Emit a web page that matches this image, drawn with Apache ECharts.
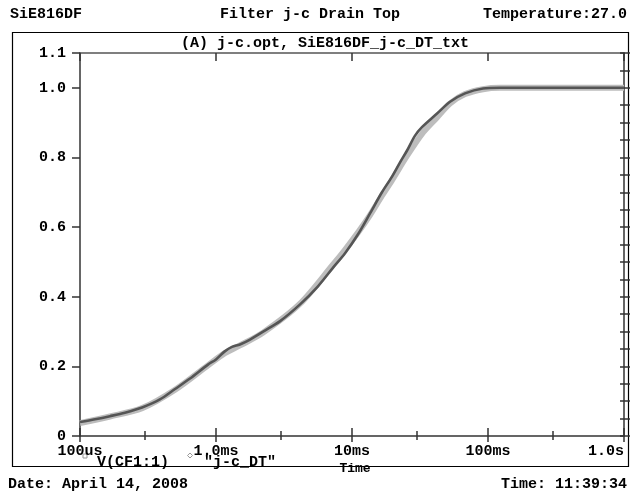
<!DOCTYPE html>
<html>
<head>
<meta charset="utf-8">
<script src="https://cdn.jsdelivr.net/npm/echarts@6/dist/echarts.min.js"></script>
<style>html,body{margin:0;padding:0;background:#fff}#c{width:637px;height:496px}</style>
</head>
<body>
<div id="c"></div>
<script>
// Time in seconds, values in volts
var simTime = [1.00e-4,1.29e-4,1.66e-4,2.14e-4,2.86e-4,3.87e-4,5.00e-4,6.44e-4,8.73e-4,1.00e-3,1.16e-3,1.31e-3,1.50e-3,1.78e-3,2.22e-3,2.96e-3,4.15e-3,5.62e-3,7.24e-3,8.89e-3,1.11e-2,1.36e-2,1.66e-2,1.97e-2,2.25e-2,2.54e-2,2.90e-2,3.27e-2,4.22e-2,5.26e-2,6.78e-2,9.18e-2,0.122,1.0];
var simV    = [0.040,0.048,0.057,0.067,0.082,0.105,0.135,0.165,0.205,0.220,0.243,0.256,0.263,0.277,0.300,0.330,0.378,0.430,0.483,0.525,0.580,0.640,0.700,0.745,0.785,0.820,0.862,0.887,0.926,0.960,0.984,0.998,1.000,1.000];
var measTime = [1.00e-4,1.66e-4,2.86e-4,5.00e-4,8.73e-4,1.16e-3,1.50e-3,2.22e-3,4.15e-3,7.24e-3,8.89e-3,1.11e-2,1.36e-2,1.66e-2,1.97e-2,2.54e-2,3.27e-2,4.22e-2,5.26e-2,6.78e-2,9.18e-2,0.122,1.0];
var measV    = [0.037,0.056,0.080,0.133,0.203,0.238,0.260,0.297,0.380,0.492,0.535,0.585,0.635,0.690,0.735,0.805,0.868,0.915,0.955,0.982,0.996,1.000,1.000];
var xMajorTicks = [1e-4,1e-3,1e-2,1e-1,1];
var xMajorLabels = ['100us','1.0ms','10ms','100ms','1.0s'];
var xMinorTicks = [3e-4,3e-3,3e-2,3e-1];
var yLabelValues = [0,0.2,0.4,0.6,0.8,1.0,1.1];
var yMinorStep = 0.05;
var seriesNames = ['V(CF1:1)','"j-c_DT"'];

var lg = function(t){ return Math.log10(t); };
var simData = simTime.map(function(t,i){ return [lg(t), simV[i]]; });
var measData = measTime.map(function(t,i){ return [lg(t), measV[i]]; });
var majLog = xMajorTicks.map(lg);
var minLog = xMinorTicks.map(lg);
var yAll = [];
for (var k = 0; k <= 22; k++) yAll.push(+(k*yMinorStep).toFixed(2));

var FONT = 'Liberation Mono';
var AX = '#333';
function xAx(pos, opts){
  var a = {type:'value', min:-4, max:0, interval:1, position:pos,
    axisLine:{show:false}, axisLabel:{show:false}, splitLine:{show:false},
    axisTick:{show:false}};
  for (var k in opts) a[k]=opts[k];
  return a;
}
function yAx(pos, opts){
  var a = {type:'value', min:0, max:1.1, interval:0.1, position:pos,
    axisLine:{show:false}, axisLabel:{show:false}, splitLine:{show:false},
    axisTick:{show:false}};
  for (var k in opts) a[k]=opts[k];
  return a;
}

var chart = echarts.init(document.getElementById('c'), null, {renderer:'canvas'});
var option = {
  backgroundColor:'#ffffff',
  animation:false,
  grid:{left:80, right:13, top:53, height:383, containLabel:false},
  xAxis:[
    xAx('bottom', {axisLine:{show:true, onZero:false, lineStyle:{color:AX, width:1.5}},
      axisTick:{show:true, inside:true, length:8, lineStyle:{color:AX, width:1.5}, customValues:majLog},
      axisLabel:{show:true, customValues:majLog, margin:8, color:'#000', fontFamily:FONT, fontWeight:'bold', fontSize:15,
        formatter:function(v){ var i = majLog.indexOf(v); for (var j=0;j<majLog.length;j++){ if (Math.abs(majLog[j]-v)<1e-6) i=j; } return i>=0 ? xMajorLabels[i] : ''; },
        alignMaxLabel:'right'}}),
    xAx('bottom', {axisTick:{show:true, inside:false, length:6, lineStyle:{color:AX, width:1.5}, customValues:majLog}}),
    xAx('bottom', {axisTick:{show:true, inside:true, length:5, lineStyle:{color:AX, width:1.5}, customValues:minLog}}),
    xAx('top', {axisLine:{show:true, onZero:false, lineStyle:{color:'#555', width:1.5}},
      axisTick:{show:true, inside:true, length:8, lineStyle:{color:AX, width:1.5}, customValues:majLog}}),
    xAx('top', {axisTick:{show:true, inside:true, length:4, lineStyle:{color:AX, width:1.5}, customValues:minLog}})
  ],
  yAxis:[
    yAx('left', {axisLine:{show:true, onZero:false, lineStyle:{color:AX, width:1.5}},
      axisTick:{show:true, inside:false, length:8, lineStyle:{color:AX, width:1.5}, customValues:yLabelValues},
      axisLabel:{show:true, customValues:yLabelValues, margin:14, color:'#000', fontFamily:FONT, fontWeight:'bold', fontSize:15,
        formatter:function(v){ return v===0 ? '0' : v.toFixed(1); }}}),
    yAx('left', {axisTick:{show:true, inside:true, length:6, lineStyle:{color:AX, width:1.5}, customValues:yAll}}),
    yAx('right', {axisLine:{show:true, onZero:false, lineStyle:{color:AX, width:1.5}},
      axisTick:{show:true, inside:true, length:4, lineStyle:{color:AX, width:1.5}, customValues:yAll}})
  ],
  series:[
    {name:seriesNames[1], type:'line', xAxisIndex:0, yAxisIndex:0, data:measData, smooth:0.3,
      showSymbol:false, lineStyle:{color:'#bdbdbd', width:6}, z:2},
    {name:seriesNames[0], type:'line', xAxisIndex:0, yAxisIndex:0, data:simData, smooth:0.3,
      showSymbol:false, lineStyle:{color:'#555555', width:2.6}, z:3}
  ],
  graphic:[
    {type:'rect', shape:{x:12.5, y:32.5, width:616, height:434}, style:{fill:null, stroke:'#000', lineWidth:1.2}, z:-1, silent:true},
    {type:'text', left:10, top:7, style:{text:'SiE816DF', font:'bold 15px "Liberation Mono"', fill:'#000'}},
    {type:'text', x:310, y:7, style:{text:'Filter j-c Drain Top', font:'bold 15px "Liberation Mono"', fill:'#000', align:'center'}},
    {type:'text', right:10, top:7, style:{text:'Temperature:27.0', font:'bold 15px "Liberation Mono"', fill:'#000'}},
    {type:'text', x:325, y:36, style:{text:'(A) j-c.opt, SiE816DF_j-c_DT_txt', font:'bold 15px "Liberation Mono"', fill:'#000', align:'center'}},
    {type:'rect', shape:{x:83, y:454, width:4, height:4}, style:{fill:null, stroke:'#999', lineWidth:1}},
    {type:'text', x:97, y:455, style:{text:seriesNames[0], font:'bold 15px "Liberation Mono"', fill:'#000'}},
    {type:'polygon', shape:{points:[[190,453],[192.5,455.5],[190,458],[187.5,455.5]]}, style:{fill:null, stroke:'#999', lineWidth:1}},
    {type:'text', x:204, y:455, style:{text:seriesNames[1], font:'bold 15px "Liberation Mono"', fill:'#000'}},
    {type:'text', x:355, y:462, style:{text:'Time', font:'bold 13px "Liberation Mono"', fill:'#000', align:'center'}},
    {type:'text', left:8, top:477, style:{text:'Date: April 14, 2008', font:'bold 15px "Liberation Mono"', fill:'#000'}},
    {type:'text', right:10, top:477, style:{text:'Time: 11:39:34', font:'bold 15px "Liberation Mono"', fill:'#000'}}
  ]
};
chart.setOption(option);
</script>
</body>
</html>
